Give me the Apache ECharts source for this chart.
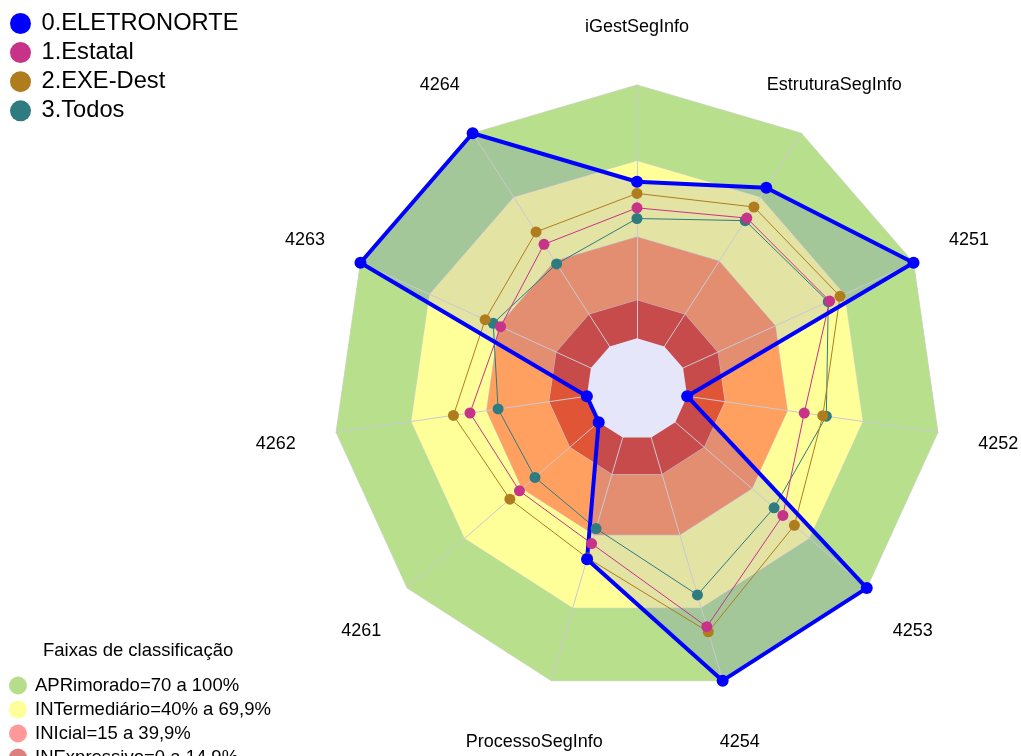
<!DOCTYPE html>
<html>
<head>
<meta charset="utf-8">
<script src="https://cdn.jsdelivr.net/npm/echarts@6/dist/echarts.min.js"></script>
<style>
  html, body { margin: 0; padding: 0; background: #fff; }
  #chart { width: 1021px; height: 756px; }
</style>
</head>
<body>
<div id="chart"></div>
<script>
// ---- data (axes listed clockwise starting at the top) ----
const axisNames = ['iGestSegInfo', 'EstruturaSegInfo', '4251', '4252', '4253', '4254',
                   'ProcessoSegInfo', '4261', '4262', '4263', '4264'];
const axisMin = -20;
const axisMax = 100;

const seriesNames = ['0.ELETRONORTE', '1.Estatal', '2.EXE-Dest', '3.Todos'];
const eletronorte = [61.8, 74.4, 100, 0, 100, 100, 50, 0, 0, 100, 100];
const estatal     = [51.5, 60.2, 63.6, 46.7, 56.2, 77.8, 43.6, 41.4, 46.6, 39.2, 47.9];
const exeDest     = [57.2, 65.4, 68.1, 54.1, 62.2, 79.9, 49.5, 46.4, 53.2, 45.9, 53.7];
const todos       = [47.3, 59.0, 63.0, 55.5, 51.6, 64.7, 37.4, 33.3, 35.4, 42.4, 38.7];

const bandTitle = 'Faixas de classificação';
const bandNames = ['APRimorado=70 a 100%', 'INTermediário=40% a 69,9%',
                   'INIcial=15 a 39,9%', 'INExpressivo=0 a 14,9%'];
const bandTops = [100, 70, 40, 15];
const innerHoleValue = 0;

// ---- styles ----
const seriesColors = ['#0000FF', '#C8338A', '#B07D1E', '#2E7B80'];
const bandFill = ['#B8E08C', '#FFFF99', '#FFA060', '#E05535'];
const bandLegend = ['#B5DD8A', '#FFFF99', '#FF9999', '#DD7F7F'];
const FONT = '"Liberation Sans", Arial, sans-serif';

// ECharts places indicators counter-clockwise: reorder so they read clockwise
const n = axisNames.length;
const order = [0];
for (let i = n - 1; i >= 1; i--) order.push(i);
const reorder = arr => order.map(i => arr[i]);

const indicator = reorder(axisNames).map(name => ({ name: name, min: axisMin, max: axisMax }));
const constVals = v => axisNames.map(() => v);

const chart = echarts.init(document.getElementById('chart'), null, { renderer: 'canvas' });

const dataSets = [eletronorte, estatal, exeDest, todos];
// draw order: Todos, EXE-Dest, Estatal, ELETRONORTE (top)
const drawOrder = [3, 2, 1, 0];

const option = {
  animation: false,
  backgroundColor: '#ffffff',
  title: {
    text: bandTitle,
    left: 43, top: 641, padding: 0,
    textStyle: { fontFamily: FONT, fontSize: 18.5, fontWeight: 'normal', color: '#000' }
  },
  legend: [
    {
      orient: 'vertical', left: 5, top: 6.5,
      icon: 'circle', itemWidth: 32, itemHeight: 21, itemGap: 5.1,
      data: seriesNames.map((nm, i) => ({ name: nm, itemStyle: { color: seriesColors[i] } })),
      textStyle: { fontFamily: FONT, fontSize: 23.7, color: '#000', lineHeight: 21 },
      selectedMode: false
    },
    {
      type: 'plain',
      orient: 'vertical', left: 4, top: 671, height: 160,
      icon: 'circle', itemWidth: 24, itemHeight: 18, itemGap: 5,
      data: bandNames.map((nm, i) => ({ name: nm, itemStyle: { color: bandLegend[i] } })),
      textStyle: { fontFamily: FONT, fontSize: 18.5, color: '#000', lineHeight: 18 },
      selectedMode: false
    }
  ],
  radar: {
    center: [637, 389],
    radius: 304,
    startAngle: 90,
    shape: 'polygon',
    splitNumber: 1,
    nameGap: 61,
    z: 2,
    indicator: indicator,
    axisName: {
      color: '#000', fontFamily: FONT, fontSize: 18,
      align: 'center', verticalAlign: 'middle',
      formatter: name => '{a|' + name + '}',
      rich: {
        a: { color: '#000', fontFamily: FONT, fontSize: 18, padding: [6, 0, 0, 0] }
      }
    },
    axisLine: { show: true, lineStyle: { color: '#C9C9D3', width: 1 } },
    axisTick: { show: false },
    axisLabel: { show: false },
    splitLine: { show: false },
    splitArea: { show: false }
  },
  series: [
    {
      type: 'radar', z: 1, silent: true, symbol: 'none',
      data: bandTops.map((v, i) => ({
        name: bandNames[i],
        value: reorder(constVals(v)),
        itemStyle: { color: bandLegend[i] },
        lineStyle: { color: '#D2D2DA', width: 1 },
        areaStyle: { color: bandFill[i], opacity: 1 }
      }))
    },
    {
      type: 'radar', z: 1, silent: true, symbol: 'none',
      data: [{
        name: 'eletronorte-area',
        value: reorder(eletronorte),
        itemStyle: { color: seriesColors[0] },
        lineStyle: { width: 0, opacity: 0 },
        areaStyle: { color: '#0000FF', opacity: 0.11 }
      }]
    },
    {
      type: 'radar', z: 3, silent: true, symbol: 'none',
      data: [{
        name: 'hole',
        value: reorder(constVals(innerHoleValue)),
        itemStyle: { color: '#E6E6FA' },
        lineStyle: { width: 0, opacity: 0 },
        areaStyle: { color: '#E6E6FA', opacity: 1 }
      }]
    },
    {
      type: 'radar', z: 4, symbol: 'circle',
      data: drawOrder.map(i => ({
        name: seriesNames[i],
        value: reorder(dataSets[i]),
        symbolSize: i === 0 ? 12 : 11,
        itemStyle: { color: seriesColors[i] },
        lineStyle: { color: seriesColors[i], width: i === 0 ? 4 : 1 }
      }))
    }
  ]
};

chart.setOption(option);
</script>
</body>
</html>
